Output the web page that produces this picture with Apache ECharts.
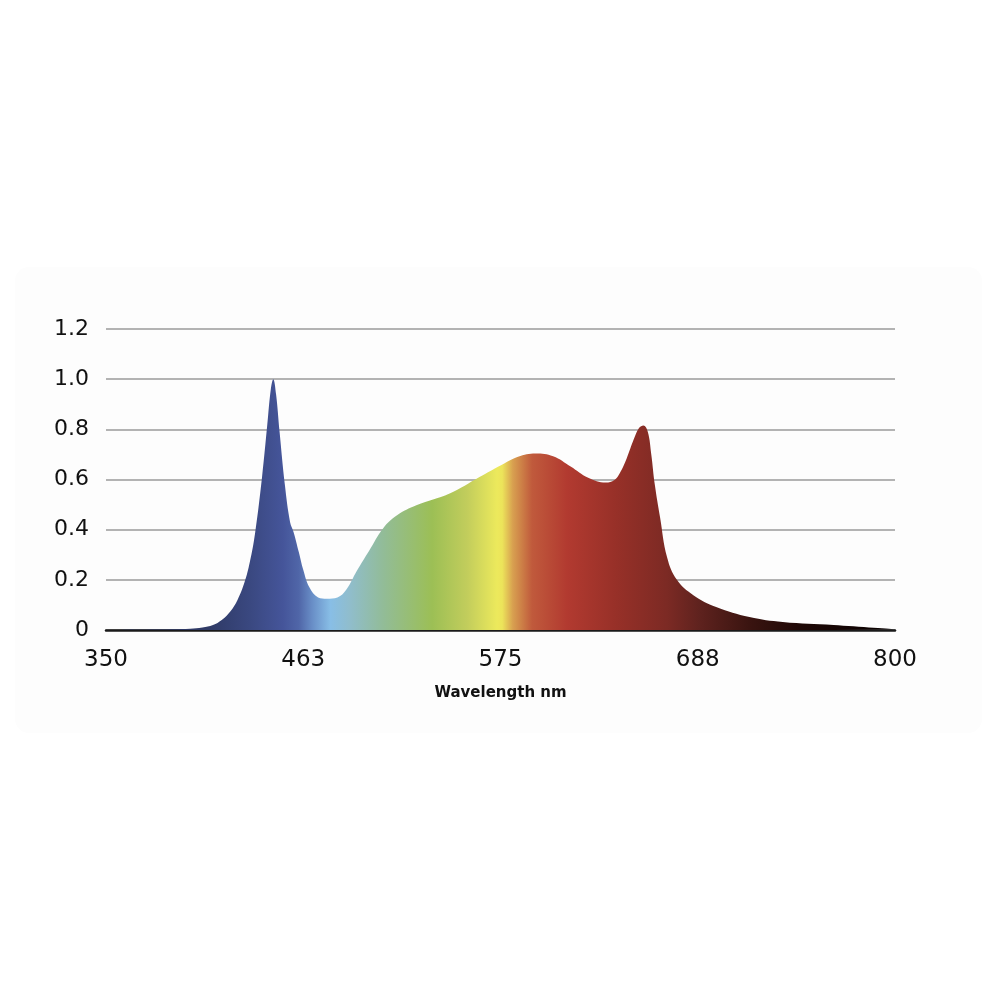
<!DOCTYPE html>
<html>
<head>
<meta charset="utf-8">
<script src="https://cdn.jsdelivr.net/npm/echarts@6/dist/echarts.min.js"></script>
<style>
  html, body { margin: 0; padding: 0; background: #fff; }
  #chart { width: 1000px; height: 1000px; }
</style>
</head>
<body>
<div id="chart"></div>
<script>
// wavelength (nm) and relative intensity
const wavelengths = [350, 380, 398, 405, 411, 416, 421, 425, 429, 432, 435, 439, 442, 444, 445.4, 447, 449, 452, 455, 457, 460, 462.5, 466, 471, 476, 482, 487, 493, 500, 508, 516, 527, 546, 563, 575, 585, 595, 605, 615, 625, 635, 640, 643, 647, 651, 654, 656.5, 659, 661, 663, 666, 670, 675.6, 685, 698, 717, 736, 765, 800]
const intensity = [0, 0.002, 0.005, 0.01, 0.02, 0.04, 0.075, 0.12, 0.19, 0.27, 0.385, 0.61, 0.82, 0.96, 1.0, 0.94, 0.79, 0.58, 0.43, 0.39, 0.31, 0.24, 0.17, 0.13, 0.125, 0.13, 0.16, 0.235, 0.315, 0.405, 0.457, 0.497, 0.544, 0.61, 0.656, 0.691, 0.704, 0.693, 0.652, 0.607, 0.588, 0.598, 0.625, 0.685, 0.76, 0.805, 0.815, 0.79, 0.70, 0.58, 0.45, 0.29, 0.2, 0.139, 0.092, 0.052, 0.032, 0.02, 0.003]

const xTicks = [350, 462.5, 575, 687.5, 800]

// spectrum colours along the wavelength range
const colorStops = [
  [350, '#2c3662'], [409, '#2f3a66'], [432, '#3a4880'], [451, '#45559a'],
  [460, '#5066a8'], [468, '#6a90c8'], [478, '#88bee6'], [489, '#90bdcc'],
  [508, '#92bc98'], [536, '#9cbf55'], [556, '#c2cd5c'], [573, '#ece95c'],
  [576, '#ece45a'], [582, '#d8a050'], [593, '#c05a3c'], [613, '#b23a30'],
  [641, '#973028'], [670, '#7c2a24'], [689, '#5e221e'], [717, '#3a1410'],
  [746, '#1e0806'], [800, '#080101']
]

const data = wavelengths.map((w, i) => [w, intensity[i]])
const gradient = new echarts.graphic.LinearGradient(0, 0, 1, 0,
  colorStops.map(s => ({ offset: (s[0] - 350) / 450, color: s[1] })))

const font = 'DejaVu Sans'
const chart = echarts.init(document.getElementById('chart'))
chart.setOption({
  animation: false,
  graphic: [{
    type: 'rect',
    z: -10,
    shape: { x: 15, y: 267, width: 967, height: 466, r: 14 },
    style: { fill: '#fdfdfd' }
  }],
  grid: { left: 106, right: 105, top: 329, bottom: 370 },
  xAxis: {
    type: 'value',
    min: 350,
    max: 800,
    name: 'Wavelength nm',
    nameLocation: 'middle',
    nameGap: 56,
    nameTextStyle: { fontFamily: font, fontSize: 15, fontWeight: 'bold', color: '#111' },
    axisLine: { show: true, lineStyle: { color: '#1a1a1a', width: 2.5 } },
    axisTick: { show: false },
    splitLine: { show: false },
    axisLabel: {
      customValues: xTicks,
      margin: 19,
      fontFamily: font,
      fontSize: 23,
      color: '#111',
      formatter: v => String(Math.round(v))
    }
  },
  yAxis: {
    type: 'value',
    min: 0,
    max: 1.2,
    interval: 0.2,
    axisLine: { show: false },
    axisTick: { show: false },
    splitLine: { lineStyle: { color: '#9a9a9a', width: 1.5 } },
    axisLabel: {
      margin: 17,
      fontFamily: font,
      fontSize: 22,
      color: '#111',
      formatter: v => v === 0 ? '0' : v.toFixed(1)
    }
  },
  series: [{
    type: 'line',
    data: data,
    smooth: 0.4,
    showSymbol: false,
    lineStyle: { width: 0 },
    areaStyle: { color: gradient, opacity: 1 },
    z: 1
  }]
})
</script>
</body>
</html>
